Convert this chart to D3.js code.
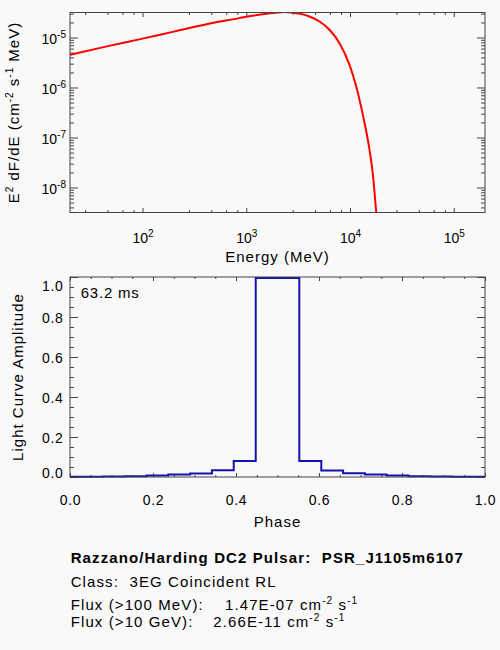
<!DOCTYPE html>
<html>
<head>
<meta charset="utf-8">
<script src="https://cdn.jsdelivr.net/npm/d3@7"></script>
<style>
  body { margin: 0; background: #f9f9f9; }
  svg { display: block; font-family: "Liberation Sans", Arial, Helvetica, sans-serif; }
  text { white-space: pre; }
</style>
</head>
<body>
<svg id="chart" width="500" height="650"></svg>
<script>
// spectrum: energy (MeV) and E^2 dF/dE
var energyMeV = [20, 50, 100, 200, 500, 857, 1000, 1500, 2000, 2350, 2700, 3400,
                 4060, 5080, 6340, 7920, 9890, 11480, 13300, 15430, 16600, 17900, 19000];
var e2dfde = [4.5e-6, 6.95e-6, 9.5e-6, 1.31e-5, 2.0e-5, 2.44e-5, 2.6e-5, 2.95e-5, 3.16e-5, 3.22e-5, 3.16e-5, 2.95e-5,
              2.63e-5, 2.09e-5, 1.43e-5, 7.7e-6, 2.84e-6, 1.05e-6, 2.84e-7, 5.6e-8, 1.86e-8, 3.2e-9, 1.0e-9];
var energyRange = [20, 2e5];
var fluxRange = [3.162e-9, 3.162e-5];
var energyMajor = [1e2, 1e3, 1e4, 1e5];
var energyMinorSteps = [2.8, 4.6, 6.4, 8.2];   // IDL-style linear minor ticks per decade
var fluxMajor = [1e-8, 1e-7, 1e-6, 1e-5];
var fluxMinorSteps = [2, 3, 4, 5, 6, 7, 8, 9];

// light curve, 20 phase bins drawn as a histogram
var phase = [0.000, 0.053, 0.105, 0.158, 0.211, 0.263, 0.316, 0.368, 0.421, 0.474,
             0.526, 0.579, 0.632, 0.684, 0.737, 0.789, 0.842, 0.895, 0.947, 1.000];
var amplitude = [0.001, 0.001, 0.002, 0.004, 0.007, 0.012, 0.017, 0.034, 0.080, 0.995,
                 0.995, 0.080, 0.033, 0.019, 0.012, 0.007, 0.004, 0.002, 0.001, 0.001];
var phaseMajor = [0, 0.2, 0.4, 0.6, 0.8, 1.0];
var phaseMinor = [0.05, 0.1, 0.15, 0.25, 0.3, 0.35, 0.45, 0.5, 0.55, 0.65, 0.7, 0.75, 0.85, 0.9, 0.95];
var ampMajor = [0, 0.2, 0.4, 0.6, 0.8, 1.0];
var ampMinor = phaseMinor;

var period = "63.2 ms";
var titleLine = "Razzano/Harding DC2 Pulsar:  PSR_J1105m6107";
var classLine = "Class:  3EG Coincident RL";
var fluxLabels = ["Flux (>100 MeV):", "Flux (>10 GeV):"];
var fluxValues = ["1.47E-07", "2.66E-11"];

var axisColor = "#444";
var svg = d3.select("#chart");
svg.append("rect").attr("width", 500).attr("height", 650).attr("fill", "#f9f9f9");

var spec = {x0: 70, x1: 485, y0: 12.5, y1: 212.5};
var lc = {x0: 70, x1: 485, y0: 277, y1: 477};

// text made of normal and superscript pieces: [[str, isSup], ...]
function rich(text, parts, supSize) {
  var raised = false;
  parts.forEach(function(p) {
    var t = text.append("tspan").text(p[0]);
    if (p[1] && !raised) { t.attr("dy", -6).attr("font-size", supSize || 10); raised = true; }
    else if (p[1]) { t.attr("font-size", supSize || 10); }
    else if (raised) { t.attr("dy", 6); raised = false; }
  });
  return text;
}

function cleanAxis(g, fontSize, spacing) {
  g.attr("font-family", null).attr("font-size", fontSize || 14);
  g.select(".domain").remove();
  g.selectAll(".tick line").attr("stroke", axisColor);
  g.selectAll(".tick text").attr("fill", "#000").attr("letter-spacing", spacing || 0);
  return g;
}

function frame(p) {
  svg.append("rect").attr("x", p.x0).attr("y", p.y0)
    .attr("width", p.x1 - p.x0).attr("height", p.y1 - p.y0)
    .attr("fill", "none").attr("stroke", axisColor).attr("stroke-width", 1);
}

// ---------- spectrum panel ----------
var xE = d3.scaleLog().domain(energyRange).range([spec.x0, spec.x1]);
var yF = d3.scaleLog().domain(fluxRange).range([spec.y1, spec.y0]);

var eMinor = [];
[10, 100, 1000, 10000].forEach(function(dec) {
  energyMinorSteps.forEach(function(s) { var v = dec * s; if (v > energyRange[0] && v < energyRange[1]) eMinor.push(v); });
});
var fMinor = [];
[1e-9, 1e-8, 1e-7, 1e-6, 1e-5].forEach(function(dec) {
  fluxMinorSteps.forEach(function(s) { var v = dec * s; if (v > fluxRange[0] && v < fluxRange[1]) fMinor.push(v); });
});

var gxb = svg.append("g").attr("transform", "translate(0," + spec.y1 + ")")
  .call(d3.axisBottom(xE).tickValues(energyMajor).tickSize(-4.5).tickSizeOuter(0));
cleanAxis(gxb);
gxb.selectAll(".tick text").attr("y", 30.2).attr("dy", 0).text(null)
  .each(function(d) { rich(d3.select(this), [["10"], [String(Math.round(Math.log10(d))), true]]); });
svg.append("g").attr("transform", "translate(0," + spec.y1 + ")")
  .call(d3.axisBottom(xE).tickValues(eMinor).tickSize(-2.5).tickSizeOuter(0).tickFormat(""))
  .call(cleanAxis);
svg.append("g").attr("transform", "translate(0," + spec.y0 + ")")
  .call(d3.axisTop(xE).tickValues(energyMajor).tickSize(-4.5).tickSizeOuter(0).tickFormat(""))
  .call(cleanAxis);
svg.append("g").attr("transform", "translate(0," + spec.y0 + ")")
  .call(d3.axisTop(xE).tickValues(eMinor).tickSize(-2.5).tickSizeOuter(0).tickFormat(""))
  .call(cleanAxis);

var gyl = svg.append("g").attr("transform", "translate(" + spec.x0 + ",0)")
  .call(d3.axisLeft(yF).tickValues(fluxMajor).tickSize(-8).tickSizeOuter(0));
cleanAxis(gyl);
gyl.selectAll(".tick text").attr("x", -4).attr("y", 6.5).attr("dy", 0).text(null)
  .each(function(d) { rich(d3.select(this), [["10"], [String(Math.round(Math.log10(d))), true]]); });
svg.append("g").attr("transform", "translate(" + spec.x0 + ",0)")
  .call(d3.axisLeft(yF).tickValues(fMinor).tickSize(-4).tickSizeOuter(0).tickFormat(""))
  .call(cleanAxis);
svg.append("g").attr("transform", "translate(" + spec.x1 + ",0)")
  .call(d3.axisRight(yF).tickValues(fluxMajor).tickSize(-8).tickSizeOuter(0).tickFormat(""))
  .call(cleanAxis);
svg.append("g").attr("transform", "translate(" + spec.x1 + ",0)")
  .call(d3.axisRight(yF).tickValues(fMinor).tickSize(-4).tickSizeOuter(0).tickFormat(""))
  .call(cleanAxis);

svg.append("clipPath").attr("id", "specClip").append("rect")
  .attr("x", spec.x0).attr("y", spec.y0).attr("width", spec.x1 - spec.x0).attr("height", spec.y1 - spec.y0);

var specLine = d3.line()
  .x(function(d) { return xE(d[0]); })
  .y(function(d) { return yF(d[1]); })
  .curve(d3.curveMonotoneX);
svg.append("path")
  .datum(d3.zip(energyMeV, e2dfde))
  .attr("clip-path", "url(#specClip)")
  .attr("d", specLine)
  .attr("fill", "none").attr("stroke", "#ff0000").attr("stroke-width", 2);
frame(spec);

rich(svg.append("text").attr("text-anchor", "middle").attr("font-size", 15).attr("letter-spacing", 1)
  .attr("transform", "translate(19," + (spec.y0 + spec.y1) / 2 + ") rotate(-90)"),
  [["E"], ["2", true], [" dF/dE (cm"], ["-2", true], [" s"], ["-1", true], [" MeV)"]]);
svg.append("text").attr("text-anchor", "middle").attr("font-size", 15).attr("letter-spacing", 1)
  .attr("x", (spec.x0 + spec.x1) / 2).attr("y", 262).text("Energy (MeV)");

// ---------- light curve panel ----------
var xP = d3.scaleLinear().domain([0, 1]).range([lc.x0, lc.x1]);
var yA = d3.scaleLinear().domain([0, 1]).range([lc.y1, lc.y0]);

var gpx = svg.append("g").attr("transform", "translate(0," + lc.y1 + ")")
  .call(d3.axisBottom(xP).tickValues(phaseMajor).tickSize(-4).tickSizeOuter(0).tickFormat(d3.format(".1f")));
cleanAxis(gpx, 14, 0.7);
gpx.selectAll(".tick text").attr("y", 28).attr("dy", 0);
svg.append("g").attr("transform", "translate(0," + lc.y1 + ")")
  .call(d3.axisBottom(xP).tickValues(phaseMinor).tickSize(-2).tickSizeOuter(0).tickFormat(""))
  .call(cleanAxis);
svg.append("g").attr("transform", "translate(0," + lc.y0 + ")")
  .call(d3.axisTop(xP).tickValues(phaseMajor).tickSize(-4).tickSizeOuter(0).tickFormat(""))
  .call(cleanAxis);
svg.append("g").attr("transform", "translate(0," + lc.y0 + ")")
  .call(d3.axisTop(xP).tickValues(phaseMinor).tickSize(-2).tickSizeOuter(0).tickFormat(""))
  .call(cleanAxis);

var gpy = svg.append("g").attr("transform", "translate(" + lc.x0 + ",0)")
  .call(d3.axisLeft(yA).tickValues(ampMajor).tickSize(-8).tickSizeOuter(0).tickFormat(d3.format(".1f")));
cleanAxis(gpy, 14, 0.7);
// keep the end labels inside the frame, as the original does
gpy.selectAll(".tick text").attr("x", -6.5).attr("dy", 0)
  .attr("y", function(d) { var y = yA(d); return Math.max(Math.min(y + 5, lc.y1), lc.y0 + 13.5) - y; });
svg.append("g").attr("transform", "translate(" + lc.x0 + ",0)")
  .call(d3.axisLeft(yA).tickValues(ampMinor).tickSize(-4).tickSizeOuter(0).tickFormat(""))
  .call(cleanAxis);
svg.append("g").attr("transform", "translate(" + lc.x1 + ",0)")
  .call(d3.axisRight(yA).tickValues(ampMajor).tickSize(-8).tickSizeOuter(0).tickFormat(""))
  .call(cleanAxis);
svg.append("g").attr("transform", "translate(" + lc.x1 + ",0)")
  .call(d3.axisRight(yA).tickValues(ampMinor).tickSize(-4).tickSizeOuter(0).tickFormat(""))
  .call(cleanAxis);

var lcLine = d3.line()
  .x(function(d) { return xP(d[0]); })
  .y(function(d) { return yA(d[1]); })
  .curve(d3.curveStep);
svg.append("path")
  .datum(d3.zip(phase, amplitude))
  .attr("d", lcLine)
  .attr("fill", "none").attr("stroke", "#1212b0").attr("stroke-width", 2);
frame(lc);

svg.append("text").attr("x", 80.7).attr("y", 297.7).attr("font-size", 15).attr("letter-spacing", 0.8).text(period);
svg.append("text").attr("text-anchor", "middle").attr("font-size", 15).attr("letter-spacing", 1)
  .attr("transform", "translate(22.5," + (lc.y0 + lc.y1) / 2 + ") rotate(-90)").text("Light Curve Amplitude");
svg.append("text").attr("text-anchor", "middle").attr("font-size", 15).attr("letter-spacing", 1)
  .attr("x", (lc.x0 + lc.x1) / 2).attr("y", 527).text("Phase");

// ---------- caption ----------
var cap = svg.append("g").attr("font-size", 15).attr("letter-spacing", 1.1);
cap.append("text").attr("x", 70.7).attr("y", 563).attr("font-weight", "bold").text(titleLine);
cap.append("text").attr("x", 70.7).attr("y", 586.7).text(classLine);
var valueX = [225, 213.3];
var lineY = [610, 627];
fluxLabels.forEach(function(lab, i) {
  cap.append("text").attr("x", 70.7).attr("y", lineY[i]).text(lab);
  rich(cap.append("text").attr("x", valueX[i]).attr("y", lineY[i]),
    [[fluxValues[i] + " cm"], ["-2", true], [" s"], ["-1", true]]);
});
</script>
</body>
</html>
